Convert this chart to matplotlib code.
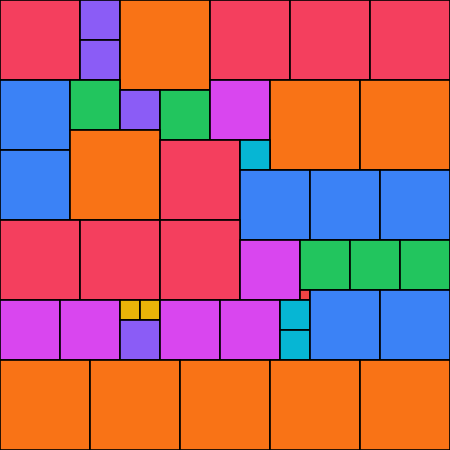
import matplotlib
matplotlib.use("Agg")
import matplotlib.pyplot as plt
from matplotlib.patches import Rectangle

# treemap cells, layout units of 10 px (x, y from top-left)
groups = ["rose", "violet", "violet", "orange", "rose", "rose", "rose",
          "blue", "green", "violet", "green", "fuchsia", "orange", "orange",
          "blue", "orange", "rose", "cyan", "blue", "blue", "blue",
          "rose", "rose", "rose", "fuchsia", "green", "green", "green", "red",
          "fuchsia", "fuchsia", "yellow", "yellow", "violet", "fuchsia", "fuchsia",
          "cyan", "cyan", "blue", "blue",
          "orange", "orange", "orange", "orange", "orange"]
xs = [0, 8, 8, 12, 21, 29, 37,
      0, 7, 12, 16, 21, 27, 36,
      0, 7, 16, 24, 24, 31, 38,
      0, 8, 16, 24, 30, 35, 40, 30,
      0, 6, 12, 14, 12, 16, 22,
      28, 28, 31, 38,
      0, 9, 18, 27, 36]
ys = [0, 0, 4, 0, 0, 0, 0,
      8, 8, 9, 9, 8, 8, 8,
      15, 13, 14, 14, 17, 17, 17,
      22, 22, 22, 24, 24, 24, 24, 29,
      30, 30, 30, 30, 32, 30, 30,
      30, 33, 29, 29,
      36, 36, 36, 36, 36]
ws = [8, 4, 4, 9, 8, 8, 8,
      7, 5, 4, 5, 6, 9, 9,
      7, 9, 8, 3, 7, 7, 7,
      8, 8, 8, 6, 5, 5, 5, 1,
      6, 6, 2, 2, 4, 6, 6,
      3, 3, 7, 7,
      9, 9, 9, 9, 9]
hs = [8, 4, 4, 9, 8, 8, 8,
      7, 5, 4, 5, 6, 9, 9,
      7, 9, 8, 3, 7, 7, 7,
      8, 8, 8, 6, 5, 5, 5, 1,
      6, 6, 2, 2, 4, 6, 6,
      3, 3, 7, 7,
      9, 9, 9, 9, 9]

palette = {"rose": "#f43f5e", "violet": "#8b5cf6", "orange": "#f97316",
           "blue": "#3b82f6", "green": "#22c55e", "fuchsia": "#d946ef",
           "cyan": "#06b6d4", "yellow": "#eab308", "red": "#ef4444"}

fig = plt.figure(figsize=(4.5, 4.5), dpi=100)
ax = fig.add_axes([0, 0, 1, 1])

for g, x, y, w, h in zip(groups, xs, ys, ws, hs):
    ax.add_patch(Rectangle((x, y), w, h, facecolor=palette[g],
                           edgecolor="black", linewidth=1.2))

ax.set_xlim(0, 45)
ax.set_ylim(45, 0)
ax.axis("off")

fig.savefig("out.png", dpi=100)
